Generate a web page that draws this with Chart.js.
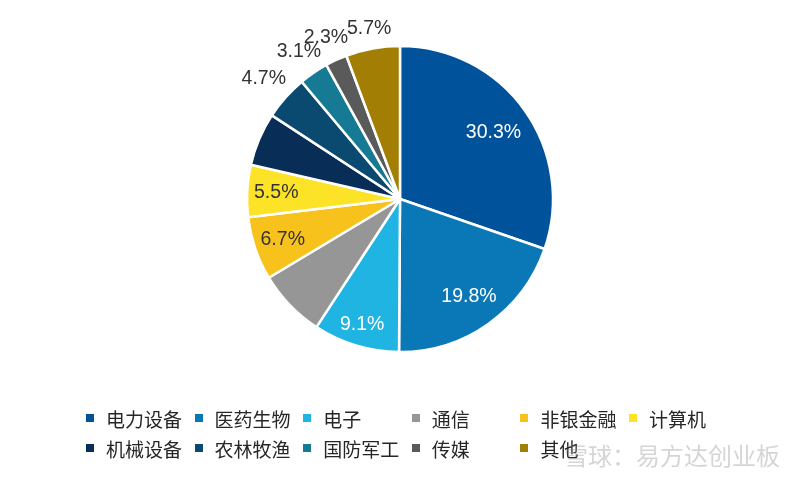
<!DOCTYPE html>
<html lang="zh">
<head>
  <meta charset="UTF-8" />
  <title>行业分布</title>
  <script src="https://cdn.jsdelivr.net/npm/chart.js"></script>
  <style>
    body {
      margin: 0;
      background: #fff;
      font-family: "Noto Sans CJK SC", sans-serif;
    }
    .wrap {
      position: relative;
      width: 800px;
      height: 480px;
    }
    #legend {
      position: absolute;
      left: 86px;
      top: 403px;
      display: grid;
      grid-template-columns: repeat(6, 108.6px);
      grid-auto-rows: 30px;
      font-size: 19px;
      color: #262626;
    }
    #legend div {
      display: flex;
      align-items: center;
      white-space: nowrap;
    }
    #legend span.box {
      width: 8px;
      height: 8px;
      margin-right: 12px;
      flex: none;
    }
    .mark {
      position: absolute;
      left: 564px;
      top: 437px;
      font-size: 24px;
      color: rgba(150, 150, 150, 0.4);
    }
  </style>
</head>
<body>
  <div class="wrap">
    <canvas id="pie" width="800" height="480"></canvas>
    <div id="legend"></div>
    <div class="mark">雪球：易方达创业板</div>
  </div>

  <script>
    const sectors = ["电力设备", "医药生物", "电子", "通信", "非银金融", "计算机",
                     "机械设备", "农林牧渔", "国防军工", "传媒", "其他"];
    const weights = [30.3, 19.8, 9.1, 7.2, 6.7, 5.5, 5.6, 4.7, 3.1, 2.3, 5.7];
    const colors = ["#00529A", "#0A77B7", "#20B4E2", "#969696", "#F8C21D", "#FCE327",
                    "#082D56", "#0A4A70", "#177A94", "#5A5A5A", "#A37E05"];

    // label distance from centre as a share of the radius (null = no label)
    const labelDist = [0.75, 0.78, 0.86, null, 0.81, 0.81, null, 1.19, 1.17, 1.16, 1.13];
    const whiteIdx = [0, 1, 2];

    const legendDiv = document.getElementById("legend");
    sectors.forEach((name, i) => {
      const item = document.createElement("div");
      const box = document.createElement("span");
      box.className = "box";
      box.style.background = colors[i];
      item.appendChild(box);
      item.appendChild(document.createTextNode(name));
      legendDiv.appendChild(item);
    });

    const pctLabels = {
      id: "pctLabels",
      afterDatasetsDraw(chart) {
        const ctx = chart.ctx;
        const arcs = chart.getDatasetMeta(0).data;
        ctx.save();
        ctx.font = "19.5px 'Liberation Sans', Arial, sans-serif";
        ctx.textAlign = "center";
        ctx.textBaseline = "middle";
        arcs.forEach((arc, i) => {
          const f = labelDist[i];
          if (f == null) return;
          const mid = (arc.startAngle + arc.endAngle) / 2;
          const r = arc.outerRadius * f;
          const x = arc.x + Math.cos(mid) * r;
          const y = arc.y + Math.sin(mid) * r;
          ctx.fillStyle = whiteIdx.includes(i) ? "#ffffff" : "#333333";
          ctx.fillText(weights[i].toFixed(1) + "%", x, y);
        });
        ctx.restore();
      }
    };

    new Chart(document.getElementById("pie"), {
      type: "pie",
      data: {
        labels: sectors,
        datasets: [{
          data: weights,
          backgroundColor: colors,
          borderColor: "#ffffff",
          borderWidth: 2.5
        }]
      },
      options: {
        responsive: false,
        animation: false,
        radius: 153,
        layout: { padding: { top: 40, bottom: 122 } },
        plugins: {
          legend: { display: false },
          tooltip: { enabled: false }
        }
      },
      plugins: [pctLabels]
    });
  </script>
</body>
</html>
